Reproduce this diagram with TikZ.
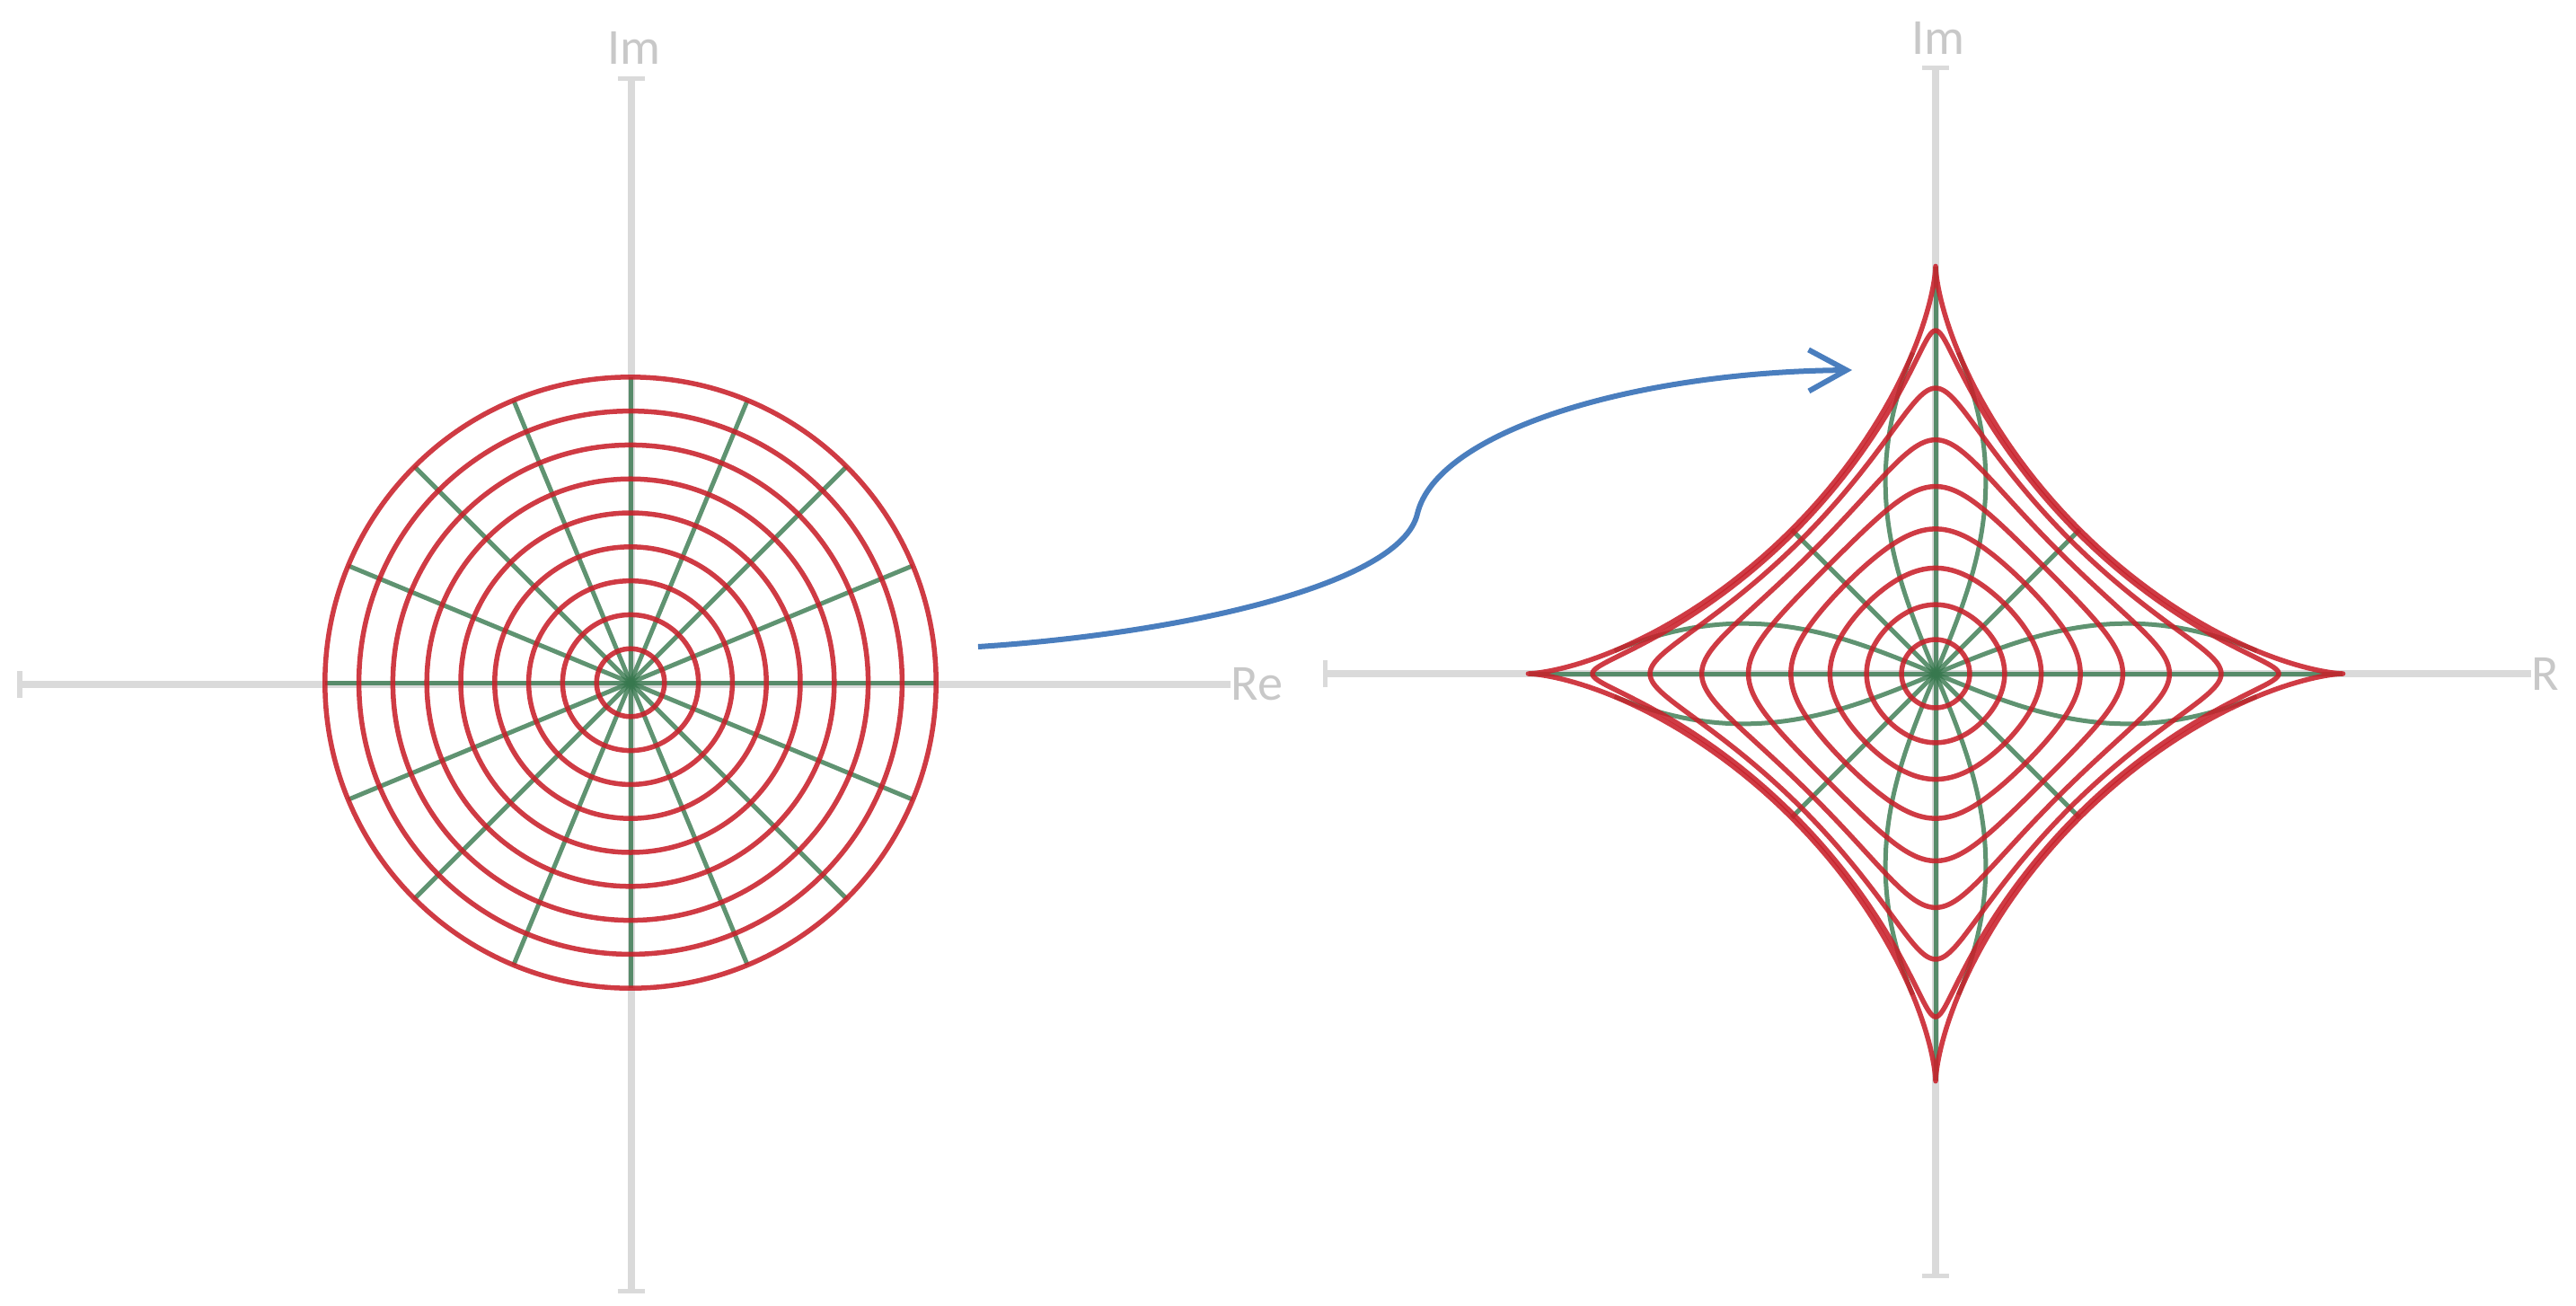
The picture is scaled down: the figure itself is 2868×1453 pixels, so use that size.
\documentclass[tikz,border=0pt]{standalone}
\usepackage{fontspec}
\setmainfont{Carlito}
\usetikzlibrary{arrows.meta}
\definecolor{axisgray}{RGB}{218,218,218}
\definecolor{labelgray}{RGB}{200,200,200}
\definecolor{mapred}{RGB}{200,32,42}
\definecolor{mapgreen}{RGB}{55,120,78}
\definecolor{arrowblue}{RGB}{74,126,190}
\begin{document}
\begin{tikzpicture}[x=0.01cm,y=-0.01cm,
  axisline/.style={draw=axisgray,line width=0.08cm},
  axistick/.style={draw=axisgray,line width=0.05cm},
  axislabel/.style={text=labelgray,font=\fontsize{16}{16}\selectfont,inner sep=0pt},
  circleline/.style={draw=mapred,line width=0.055cm,opacity=0.88,line join=round},
  spokeline/.style={draw=mapgreen,line width=0.05cm,opacity=0.8,line join=round},
  maparrow/.style={draw=arrowblue,line width=0.06cm,-{Straight Barb[length=0.42cm,width=0.46cm]}}]
\useasboundingbox (0,0) rectangle (2868,1453);

% ---------- left axes ----------
\node[axislabel,anchor=west] (reL) at (1370,762) {Re};
\node[axislabel] (imL) at (706,53) {Im};
\coordinate (hL0) at (22,762);
\coordinate (vL0) at (703,87);
\coordinate (vL1) at (703,1437);
\draw[axisline] (hL0) -- (reL.west);
\draw[axisline] (vL0) -- (vL1);
\draw[axistick] ([yshift=-0.15cm]hL0) -- ([yshift=0.15cm]hL0);
\draw[axistick] ([xshift=-0.15cm]vL0) -- ([xshift=0.15cm]vL0);
\draw[axistick] ([xshift=-0.15cm]vL1) -- ([xshift=0.15cm]vL1);

% ---------- right axes ----------
\node[axislabel,anchor=west] (reR) at (2818,750) {R};
\node[axislabel] (imR) at (2158,42) {Im};
\coordinate (hR0) at (1475,750);
\coordinate (vR0) at (2155,75);
\coordinate (vR1) at (2155,1420);
\draw[axisline] (hR0) -- (reR.west);
\draw[axisline] (vR0) -- (vR1);
\draw[axistick] ([yshift=-0.15cm]hR0) -- ([yshift=0.15cm]hR0);
\draw[axistick] ([xshift=-0.15cm]vR0) -- ([xshift=0.15cm]vR0);
\draw[axistick] ([xshift=-0.15cm]vR1) -- ([xshift=0.15cm]vR1);

% ---------- left: disc with polar grid ----------
\begin{scope}[shift={(702,760)},x=3.4cm,y=3.4cm]
  \foreach \a in {0,22.5,...,337.5}
    \draw[spokeline] (0,0) -- (\a:1);
  \foreach \k in {1,...,9}
    \draw[circleline] (0,0) circle ({\k/9});
\end{scope}

% ---------- right: image under z + conj(z)^3/3 ----------
\begin{scope}[shift={(2155,750)},x=3.4cm,y=3.4cm]
  \foreach \a in {0,22.5,...,337.5}
    \draw[spokeline] plot[domain=0:1,samples=40,variable=\s]
      ({\s*cos(\a)+\s*\s*\s/3*cos(3*\a)},{\s*sin(\a)-\s*\s*\s/3*sin(3*\a)});
  \foreach \k in {1,...,9}{
    \pgfmathsetmacro\rr{\k/9}
    \draw[circleline] plot[domain=0:360,samples=289,variable=\t]
      ({\rr*cos(\t)+\rr*\rr*\rr/3*cos(3*\t)},{\rr*sin(\t)-\rr*\rr*\rr/3*sin(3*\t)}) -- cycle;
  }
\end{scope}

% ---------- mapping arrow ----------
\coordinate (arrowstart) at (1089,720);
\coordinate (arrowmid) at (1578,572);
\coordinate (arrowend) at (2062,412);
\draw[maparrow] (arrowstart) .. controls (1320,705) and (1560,650) .. (arrowmid)
  .. controls (1600,480) and (1820,414) .. (arrowend);
\end{tikzpicture}
\end{document}
